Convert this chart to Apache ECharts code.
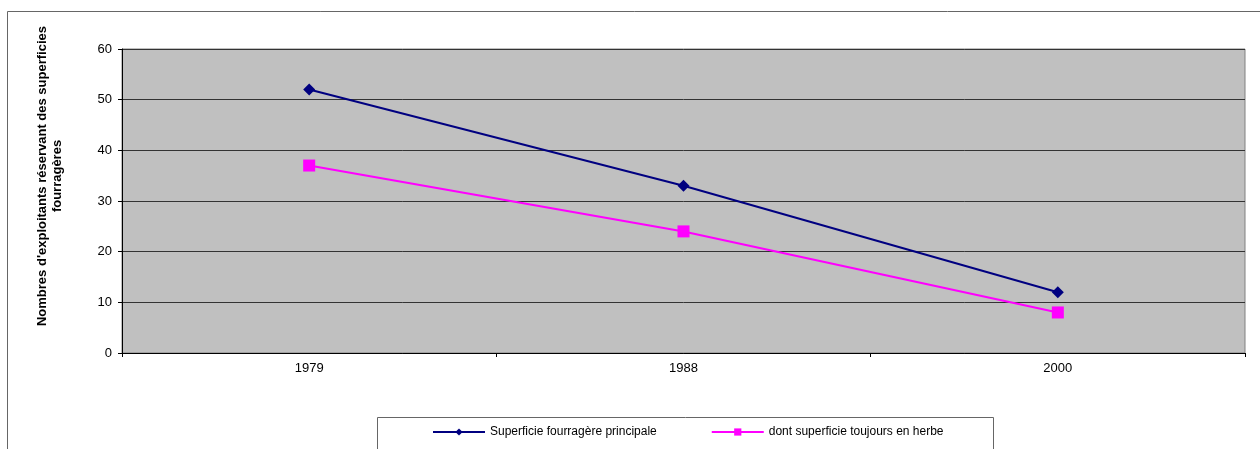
<!DOCTYPE html>
<html>
<head>
<meta charset="utf-8">
<script src="https://cdn.jsdelivr.net/npm/echarts@6/dist/echarts.min.js"></script>
<style>
  html, body { margin: 0; padding: 0; background: #fff; }
  #chart { width: 1260px; height: 449px; }
</style>
</head>
<body>
<div id="chart"></div>
<script>
var years = ['1979', '1988', '2000'];
var principale = [52, 33, 12];
var herbe = [37, 24, 8];
var yTicks = [0, 10, 20, 30, 40, 50, 60];

var font = '"Liberation Sans", Arial, sans-serif';
var dom = document.getElementById('chart');
var myChart = echarts.init(dom);
var option = {
    animation: false,
    textStyle: { fontFamily: font },
    graphic: [
        {
            type: 'rect',
            shape: { x: 7.5, y: 11.5, width: 1300, height: 500 },
            style: { fill: 'none', stroke: '#666', lineWidth: 1 },
            silent: true
        },
        {
            type: 'rect',
            shape: { x: 377.5, y: 417.5, width: 616, height: 60 },
            style: { fill: '#fff', stroke: '#666', lineWidth: 1 },
            silent: true,
            z: 0
        },
        {
            type: 'text',
            x: 50,
            y: 176,
            rotation: Math.PI / 2,
            style: {
                text: "Nombres d'exploitants réservant des superficies\nfourragères",
                fontFamily: font,
                fontSize: 13,
                fontWeight: 'bold',
                fill: '#000',
                align: 'center',
                verticalAlign: 'middle',
                lineHeight: 15
            }
        }
    ],
    legend: {
        data: ['Superficie fourragère principale', 'dont superficie toujours en herbe'],
        left: 432,
        top: 426,
        padding: 0,
        itemWidth: 52,
        itemHeight: 9,
        itemGap: 54,
        textStyle: { fontFamily: font, fontSize: 12, color: '#000' },
        z: 5
    },
    grid: {
        left: 122,
        right: 15,
        top: 49,
        bottom: 96,
        show: true,
        backgroundColor: '#C0C0C0',
        borderColor: '#808080',
        borderWidth: 1
    },
    xAxis: {
        type: 'category',
        data: years,
        boundaryGap: true,
        axisLine: { lineStyle: { color: '#000', width: 1 } },
        axisTick: { show: true, length: 4, inside: false, lineStyle: { color: '#000' } },
        axisLabel: { color: '#000', fontSize: 13, margin: 9, fontFamily: font }
    },
    yAxis: {
        type: 'value',
        min: yTicks[0],
        max: yTicks[yTicks.length - 1],
        interval: 10,
        axisLine: { show: true, lineStyle: { color: '#000', width: 1 } },
        axisTick: { show: true, length: 4, lineStyle: { color: '#000' } },
        axisLabel: { color: '#000', fontSize: 13, margin: 10, fontFamily: font },
        splitLine: { show: true, lineStyle: { color: '#333', width: 1 } }
    },
    series: [
        {
            name: 'Superficie fourragère principale',
            type: 'line',
            data: principale,
            symbol: 'diamond',
            symbolSize: 12,
            color: '#000080',
            lineStyle: { width: 2, color: '#000080' },
            itemStyle: { color: '#000080' }
        },
        {
            name: 'dont superficie toujours en herbe',
            type: 'line',
            data: herbe,
            symbol: 'rect',
            symbolSize: 12,
            color: '#FF00FF',
            lineStyle: { width: 2, color: '#FF00FF' },
            itemStyle: { color: '#FF00FF' }
        }
    ]
};
myChart.setOption(option, true);
window.onresize = myChart.resize;
</script>
</body>
</html>
